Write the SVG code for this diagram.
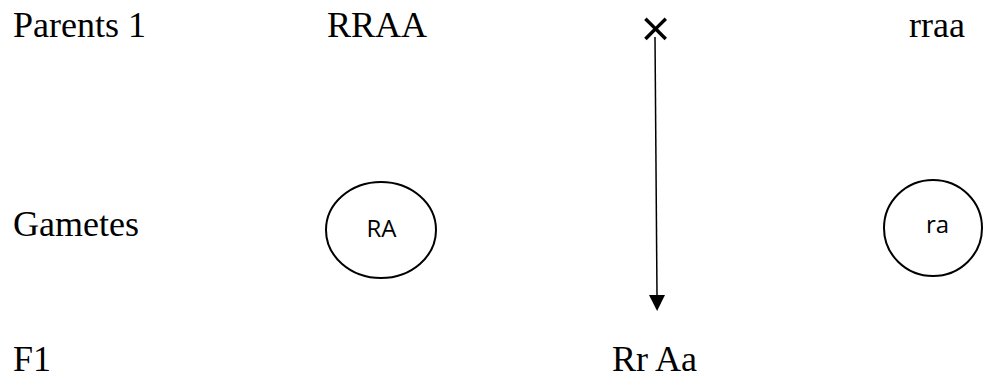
<svg xmlns="http://www.w3.org/2000/svg" width="985" height="381" viewBox="0 0 985 381">
<defs>
<style>
.t{font-family:"Liberation Serif","Times New Roman",serif;font-size:36px;fill:#000}
.s{font-family:"Open Sans","Liberation Sans",sans-serif;font-size:24px;fill:#000;text-anchor:middle}
.c{fill:none;stroke:#000;stroke-width:2}
</style>
<marker id="ah" markerWidth="16" markerHeight="16" refX="0" refY="8" orient="auto" markerUnits="userSpaceOnUse" viewBox="0 0 16 16">
<path d="M0,0 L16,8 L0,16 Z" fill="#000"/>
</marker>
</defs>
<rect width="985" height="381" fill="#fff"/>
<g id="labels">
<text class="t" x="13" y="37">Parents 1</text>
<text class="t" x="13" y="236">Gametes</text>
<text class="t" x="13" y="371">F1</text>
</g>
<g id="parent1"><text class="t" x="327" y="37">RRAA</text></g>
<g id="cross"><text x="655.5" y="47" style="font-family:'Open Sans',sans-serif;font-size:52px;text-anchor:middle">×</text></g>
<g id="parent2"><text class="t" x="909" y="37">rraa</text></g>
<g id="gameteRA">
<ellipse class="c" cx="381" cy="230" rx="55" ry="48"/>
<text class="s" x="381.5" y="237">RA</text>
</g>
<g id="gameteRa">
<ellipse class="c" cx="933" cy="228" rx="49" ry="48"/>
<text class="s" x="937.5" y="233">ra</text>
</g>
<g id="f1"><text class="t" x="612" y="371">Rr Aa</text></g>
<g id="connectors">
<line x1="655" y1="37" x2="657" y2="295" stroke="#000" stroke-width="1.5" marker-end="url(#ah)"/>
</g>
</svg>
